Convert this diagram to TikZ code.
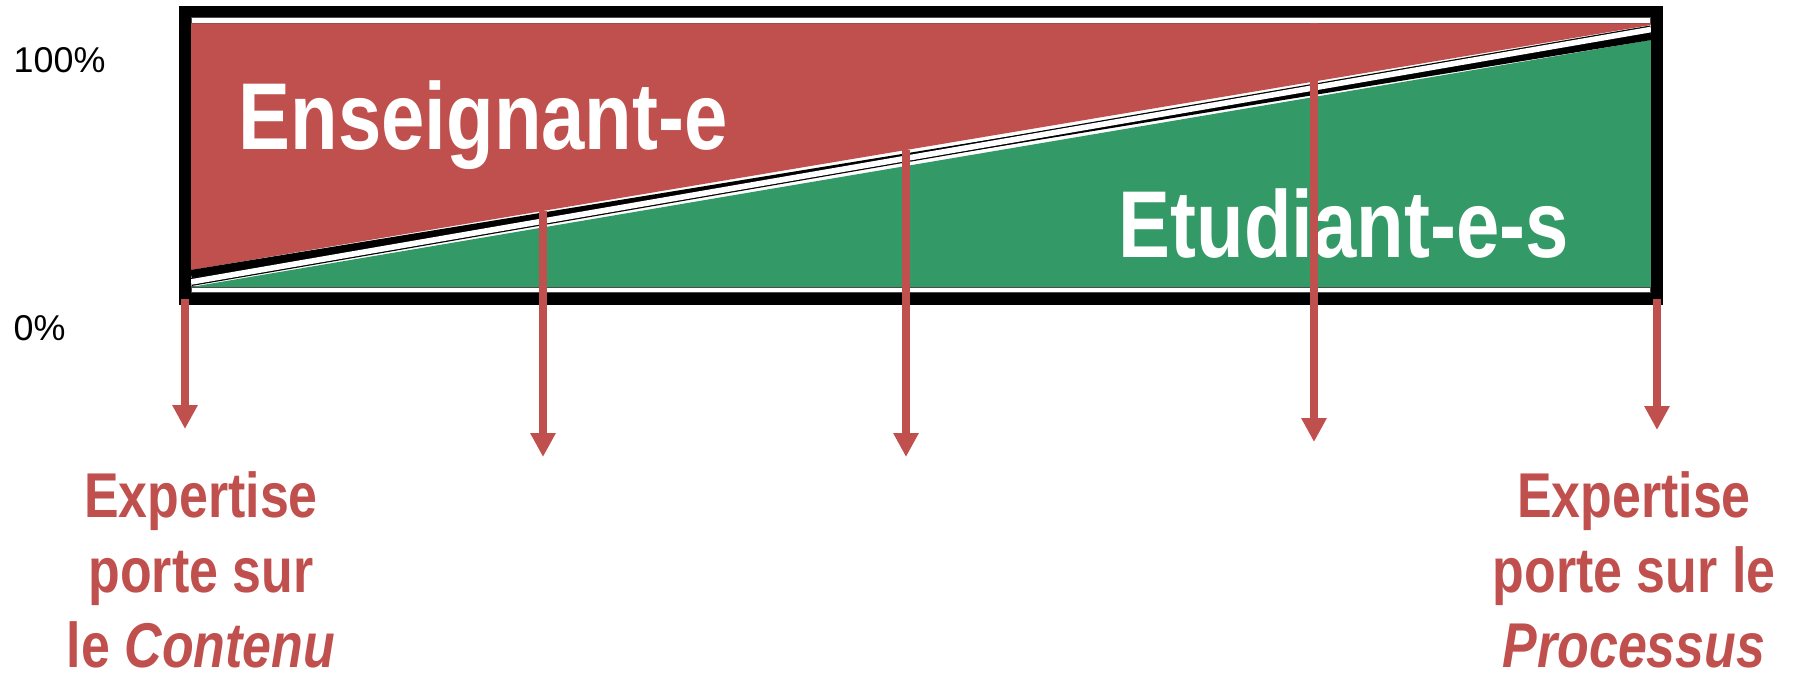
\documentclass[tikz,border=0pt]{standalone}
\usepackage{fontspec}
\setmainfont{Liberation Sans}
\newfontfamily\narrowsans{Liberation Sans}[FakeStretch=0.82]
\usetikzlibrary{arrows.meta}
\definecolor{ensred}{HTML}{C0504D}
\definecolor{etugreen}{HTML}{339966}
\tikzset{
  fleche/.style={-{Triangle[width=6.8pt,length=6.8pt]}, line width=2pt, ensred},
  grostexte/.style={inner sep=0pt, text=white, font=\narrowsans\bfseries\fontsize{27}{32}\selectfont},
  legende/.style={inner sep=0pt, align=center, text=ensred, font=\narrowsans\bfseries\fontsize{18}{21.4}\selectfont},
  pourcent/.style={inner sep=0pt, font=\fontsize{10.2}{12}\selectfont}
}
\begin{document}
\begin{tikzpicture}[x=0.01cm, y=-0.01cm]
  \useasboundingbox (0,0) rectangle (1793,674);
  % fond et bandes blanches
  \draw[line width=0.3pt, black!70, fill=white] (191,17) rectangle (1651,23.5);
  \draw[line width=0.3pt, black!70, fill=white] (191,287) rectangle (1651,293);
  \begin{scope}
    \clip (191,23.5) rectangle (1651,287);
    \fill[ensred] (191,23.5) -- (1651,23.5) -- (1651,25) -- (191,270) -- cycle;
    \fill[etugreen] (191,287) -- (1651,40) -- (1651,287) -- cycle;
    \draw[line width=2.3pt] (191,274) -- (1651,36);
    \draw[line width=2.3pt] (191,282) -- (1651,29.5);
    \draw[line width=1.6pt, white] (191,282) -- (1651,29.5);
  \end{scope}
  % cadre
  \draw[line width=3.4pt] (185,11.5) rectangle (1657,299);
  % textes
  \node[grostexte, anchor=base west] (enseignant) at (238,150) {Enseignant-e};
  \node[grostexte, anchor=base west] (etudiants) at (1118,258) {Etudiant-e-s};
  \node[pourcent, anchor=base west] (haut) at (13,73) {100\%};
  \node[pourcent, anchor=base west] (bas) at (13,341) {0\%};
  \node[legende, anchor=base] (contenu) at (201,668) {Expertise\\porte sur\\le \textit{Contenu}};
  \node[legende, anchor=base] (processus) at (1634,668) {Expertise\\porte sur le\\\textit{Processus}};
  % fleches
  \foreach \x/\yd/\yf [count=\i] in {185/299/429, 543/211/457, 906/150/457, 1314/23.5/442, 1657/299/430} {
    \coordinate (d\i) at (\x,\yd);
    \coordinate (f\i) at (\x,\yf);
    \draw[fleche] (d\i) -- (f\i);
  }
\end{tikzpicture}
\end{document}
